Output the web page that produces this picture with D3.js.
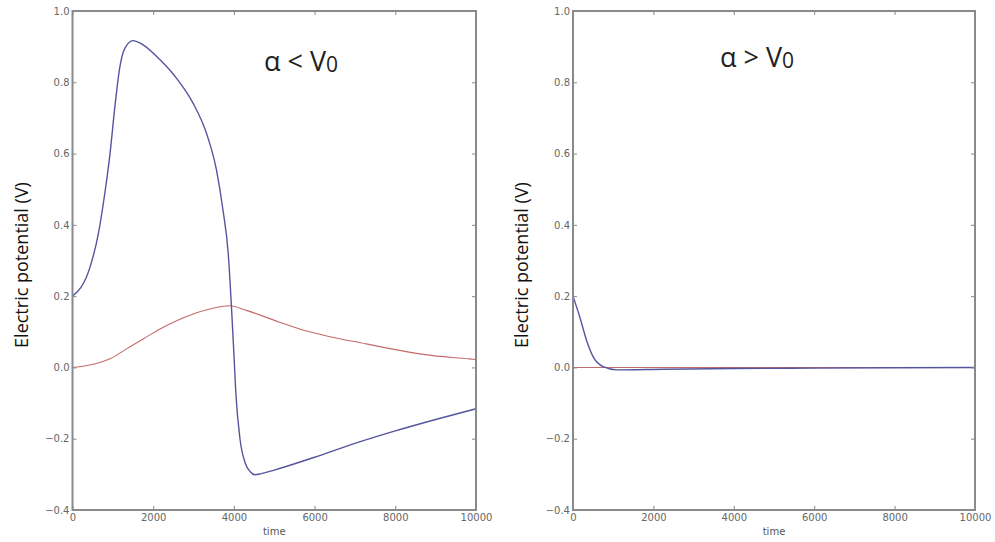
<!DOCTYPE html>
<html lang="en">
<head>
<meta charset="UTF-8">
<title>Electric potential</title>
<script src="https://d3js.org/d3.v7.min.js"></script>
<style>
  body { margin: 0; background: #fff; }
  svg { display: block; }
  .tick text { font-family: "DejaVu Sans", sans-serif; font-size: 10px; fill: #666; }
  .tick line { stroke: #888; }
</style>
</head>
<body>
<div id="chart"></div>
<script>
// Datos
const blueLeftT = [0, 430, 640, 800, 930, 1050, 1175, 1300, 1500, 1750, 2170, 2580, 2990, 3320, 3570, 3730, 3860, 3940, 4000, 4050, 4150, 4280, 4400, 4520, 4680, 5000, 6000, 7000, 8000, 9000, 10000];
const blueLeftV = [0.2, 0.28, 0.375, 0.488, 0.6, 0.731, 0.844, 0.896, 0.917, 0.905, 0.863, 0.811, 0.741, 0.657, 0.553, 0.441, 0.319, 0.169, 0.038, -0.075, -0.2, -0.268, -0.292, -0.301, -0.298, -0.288, -0.252, -0.213, -0.178, -0.146, -0.116];
const redLeftT = [0, 520, 930, 1340, 1750, 2170, 2580, 2990, 3400, 3900, 4310, 5130, 5630, 7280, 8930, 9840, 10000];
const redLeftV = [0, 0.009, 0.024, 0.052, 0.08, 0.108, 0.131, 0.15, 0.164, 0.173, 0.16, 0.127, 0.108, 0.066, 0.033, 0.024, 0.022];
const blueRightT = [0, 170, 340, 510, 750, 1090, 2250, 4000, 6000, 8000, 10000];
const blueRightV = [0.2, 0.141, 0.075, 0.028, 0.002, -0.007, -0.005, -0.003, -0.002, -0.001, 0];
const redRightT = [0, 2000, 4000, 6000, 8000, 10000];
const redRightV = [0, 0, 0, 0, 0, 0];

const xTicks = [0, 2000, 4000, 6000, 8000, 10000];
const yTicks = [-0.4, -0.2, 0.0, 0.2, 0.4, 0.6, 0.8, 1.0];
const titles = ["α < V", "α > V"];

const W = 995, H = 542;
const svg = d3.select("#chart").append("svg").attr("width", W).attr("height", H);

const panels = [
  { x0: 72.5, x1: 476, title: titles[0], tx: 301, ty: 71, lab: 22,
    series: [[redLeftT, redLeftV, "#c46a6a", 1.1], [blueLeftT, blueLeftV, "#55559f", 1.4]] },
  { x0: 573, x1: 975, title: titles[1], tx: 757, ty: 67, lab: 522,
    series: [[redRightT, redRightV, "#c46a6a", 1.1], [blueRightT, blueRightV, "#55559f", 1.4]] }
];

const yTop = 11, yBot = 510;

panels.forEach(p => {
  const x = d3.scaleLinear().domain([0, 10000]).range([p.x0, p.x1]);
  const y = d3.scaleLinear().domain([-0.4, 1.0]).range([yBot, yTop]);
  const g = svg.append("g");

  // líneas
  const line = d3.line().x(d => x(d[0])).y(d => y(d[1])).curve(d3.curveMonotoneX);
  p.series.forEach(s => {
    const pts = s[0].map((t, i) => [t, s[1][i]]);
    g.append("path").attr("d", line(pts)).attr("fill", "none")
      .attr("stroke", s[2]).attr("stroke-width", s[3]);
  });

  // ejes con ticks hacia adentro
  const fmt = d3.format(".1f");
  g.append("g").attr("transform", `translate(${p.x0},0)`)
    .call(d3.axisLeft(y).tickValues(yTicks).tickFormat(d => fmt(d).replace("-", "\u2212")).tickSizeInner(-4).tickSizeOuter(0).tickPadding(3))
    .call(a => a.select(".domain").remove());
  g.append("g").attr("transform", `translate(${p.x1},0)`)
    .call(d3.axisRight(y).tickValues(yTicks).tickFormat("").tickSizeInner(-4).tickSizeOuter(0))
    .call(a => a.select(".domain").remove());
  g.append("g").attr("transform", `translate(0,${yBot})`)
    .call(d3.axisBottom(x).tickValues(xTicks).tickFormat(d3.format("d")).tickSizeInner(-4).tickSizeOuter(0).tickPadding(4))
    .call(a => a.select(".domain").remove());
  g.append("g").attr("transform", `translate(0,${yTop})`)
    .call(d3.axisTop(x).tickValues(xTicks).tickFormat("").tickSizeInner(-4).tickSizeOuter(0))
    .call(a => a.select(".domain").remove());

  // marco
  g.append("rect").attr("x", p.x0).attr("y", yTop).attr("width", p.x1 - p.x0).attr("height", yBot - yTop)
    .attr("fill", "none").attr("stroke", "#8a8a8a").attr("stroke-width", 2);

  // etiquetas
  g.append("text").attr("x", (p.x0 + p.x1) / 2).attr("y", 535).attr("text-anchor", "middle")
    .attr("font-family", "DejaVu Sans, sans-serif").attr("font-size", 10).attr("fill", "#555").text("time");
  g.append("text").attr("transform", `translate(${p.lab + 6},${265}) rotate(-90)`).attr("text-anchor", "middle")
    .attr("font-family", "Open Sans, sans-serif").attr("font-size", 18).attr("fill", "#111")
    .text("Electric potential (V)");

  const t = g.append("text").attr("x", p.tx).attr("y", p.ty).attr("text-anchor", "middle")
    .attr("font-family", "Open Sans, sans-serif").attr("font-size", 27).attr("fill", "#222");
  t.append("tspan").text(p.title);
  t.append("tspan").attr("font-size", 21).attr("dy", 1).text("0");
});
</script>
</body>
</html>
